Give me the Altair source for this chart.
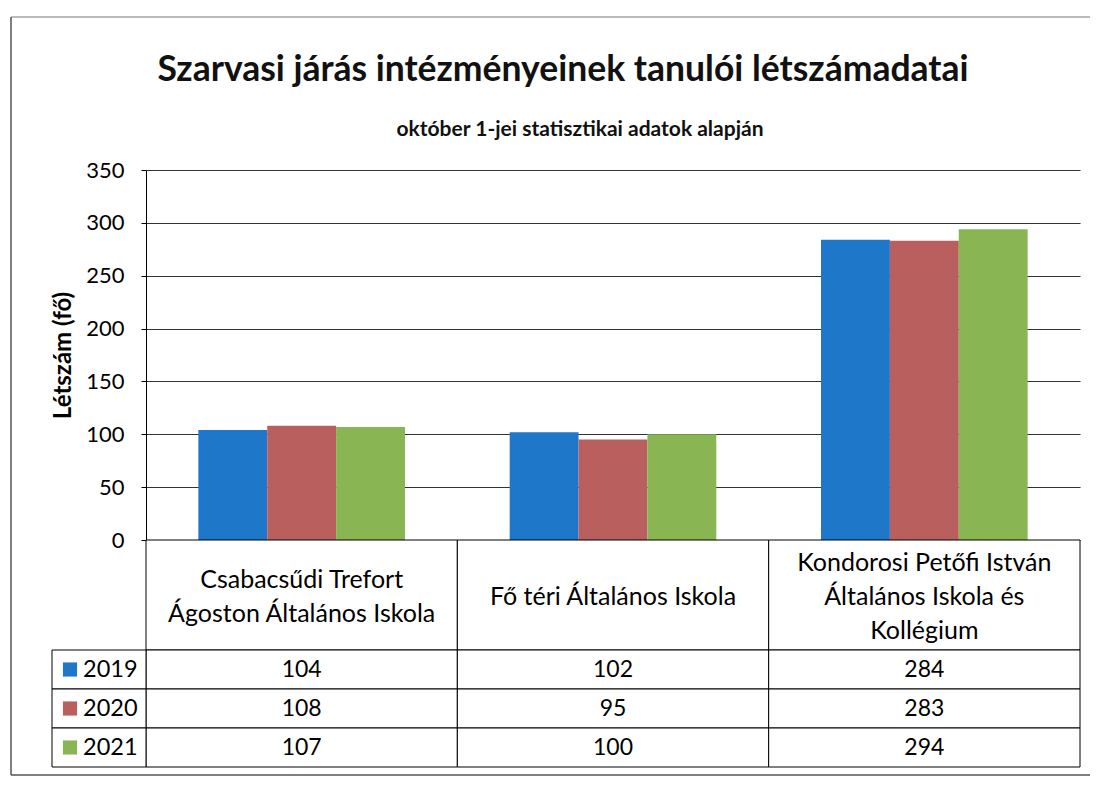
import altair as alt
import pandas as pd

title_text = "Szarvasi járás intézményeinek tanulói létszámadatai"
subtitle_text = "október 1-jei statisztikai adatok alapján"
y_title = "Létszám (fő)"

categories = [
    "Csabacsűdi Trefort Ágoston Általános Iskola",
    "Fő téri Általános Iskola",
    "Kondorosi Petőfi István Általános Iskola és Kollégium",
]
category_lines = [
    ["Csabacsűdi Trefort", "Ágoston Általános Iskola"],
    ["Fő téri Általános Iskola"],
    ["Kondorosi Petőfi István", "Általános Iskola és", "Kollégium"],
]
years = ["2019", "2020", "2021"]
values_2019 = [104, 102, 284]
values_2020 = [108, 95, 283]
values_2021 = [107, 100, 294]
colors = ["#1f77c9", "#b9605f", "#8ab553"]
y_ticks = [0, 50, 100, 150, 200, 250, 300, 350]

rows = []
for yr, vals in zip(years, [values_2019, values_2020, values_2021]):
    for c, v in zip(categories, vals):
        rows.append({"iskola": c, "ev": yr, "letszam": v})
df = pd.DataFrame(rows)

hl = []
for c, lines in zip(categories, category_lines):
    for i, ln in enumerate(lines):
        hl.append({"iskola": c, "i": i, "n": len(lines), "sor": ln})
header_lines_df = pd.DataFrame(hl)
header_df = pd.DataFrame({"iskola": categories})
one = pd.DataFrame({"t": [title_text], "s": [subtitle_text]})
year_df = pd.DataFrame({"ev": years})

W = 934
H = 370
HH = 110
LH = 34
FONT = "Lato"

x_cat = alt.X("iskola:N", sort=categories,
              scale=alt.Scale(domain=categories, paddingInner=0, paddingOuter=0),
              axis=None)
color_enc = alt.Color("ev:N", scale=alt.Scale(domain=years, range=colors), legend=None)

bars = alt.Chart(df).mark_bar().encode(
    x=x_cat,
    xOffset=alt.XOffset("ev:N", sort=years,
                        scale=alt.Scale(domain=years, paddingInner=0, paddingOuter=0.76)),
    y=alt.Y("letszam:Q", scale=alt.Scale(domain=[0, 350], nice=False),
            axis=alt.Axis(values=y_ticks, title=y_title, titleFontSize=24,
                          titleFontWeight="bold", labelFontSize=22, tickSize=5,
                          labelPadding=17, titlePadding=10, domainColor="black",
                          tickColor="black", gridColor="#333333", grid=True,
                          labelColor="black", titleColor="black", labelFont=FONT,
                          titleFont=FONT)),
    color=color_enc,
)

title = alt.Chart(one).mark_text(fontSize=35.5, fontWeight="bold", font=FONT, color="#111111").encode(
    x=alt.value(417), y=alt.value(-100), text="t:N")
subtitle = alt.Chart(one).mark_text(fontSize=21, fontWeight="bold", font=FONT, color="#111111").encode(
    x=alt.value(434), y=alt.value(-40), text="s:N")

frame_left = alt.Chart(one).mark_rule(color="#555555", strokeWidth=1.5).encode(
    x=alt.value(-135), y=alt.value(-153), y2=alt.value(605))
frame_top = alt.Chart(one).mark_rule(color="#777777", strokeWidth=1).encode(
    x=alt.value(-135), x2=alt.value(944), y=alt.value(-153))
frame_bottom = alt.Chart(one).mark_rule(color="#555555", strokeWidth=1.5).encode(
    x=alt.value(-135), x2=alt.value(944), y=alt.value(605))

top = alt.layer(bars, title, subtitle, frame_left, frame_top, frame_bottom).properties(width=W, height=H)

header_cells = alt.Chart(header_df).mark_rect(fill="white", stroke="black", strokeWidth=1).encode(
    x=x_cat, y=alt.value(0), y2=alt.value(HH))
header_text = alt.Chart(header_lines_df).transform_calculate(
    ypos=f"{HH / 2 + 2} + (datum.i - (datum.n - 1) / 2) * {LH}"
).mark_text(fontSize=25, baseline="middle", font=FONT, color="black").encode(
    x=x_cat,
    y=alt.Y("ypos:Q", scale=alt.Scale(domain=[0, HH], range=[0, HH]), axis=None),
    text="sor:N")
header = alt.layer(header_cells, header_text).properties(width=W, height=HH)

y_row = alt.Y("ev:N", sort=years, scale=alt.Scale(domain=years, paddingInner=0, paddingOuter=0), axis=None)
cells = alt.Chart(df).mark_rect(fill="white", stroke="black", strokeWidth=1).encode(x=x_cat, y=y_row)
cell_text = alt.Chart(df).mark_text(fontSize=23, font=FONT, color="black").encode(
    x=x_cat, y=y_row, text="letszam:Q")
leg_cells = alt.Chart(year_df).mark_rect(fill="white", stroke="black", strokeWidth=1).encode(
    x=alt.value(-94), x2=alt.value(0), y=y_row)
leg_sq = alt.Chart(year_df).mark_square(size=200, filled=True, opacity=1).encode(
    x=alt.value(-76), y=y_row, color=color_enc)
leg_text = alt.Chart(year_df).mark_text(align="left", fontSize=23.5, font=FONT, color="black").encode(
    x=alt.value(-63), y=y_row, text="ev:N")
table = alt.layer(cells, cell_text, leg_cells, leg_sq, leg_text).properties(width=W, height=117)

chart = alt.vconcat(top, header, table, spacing=0, bounds="flush").properties(
    padding={"left": 2, "top": 8, "right": 0, "bottom": 0}
).configure(font=FONT).configure_view(strokeWidth=0)

chart.save("out.html", embed_options={"renderer": "svg", "actions": False})
